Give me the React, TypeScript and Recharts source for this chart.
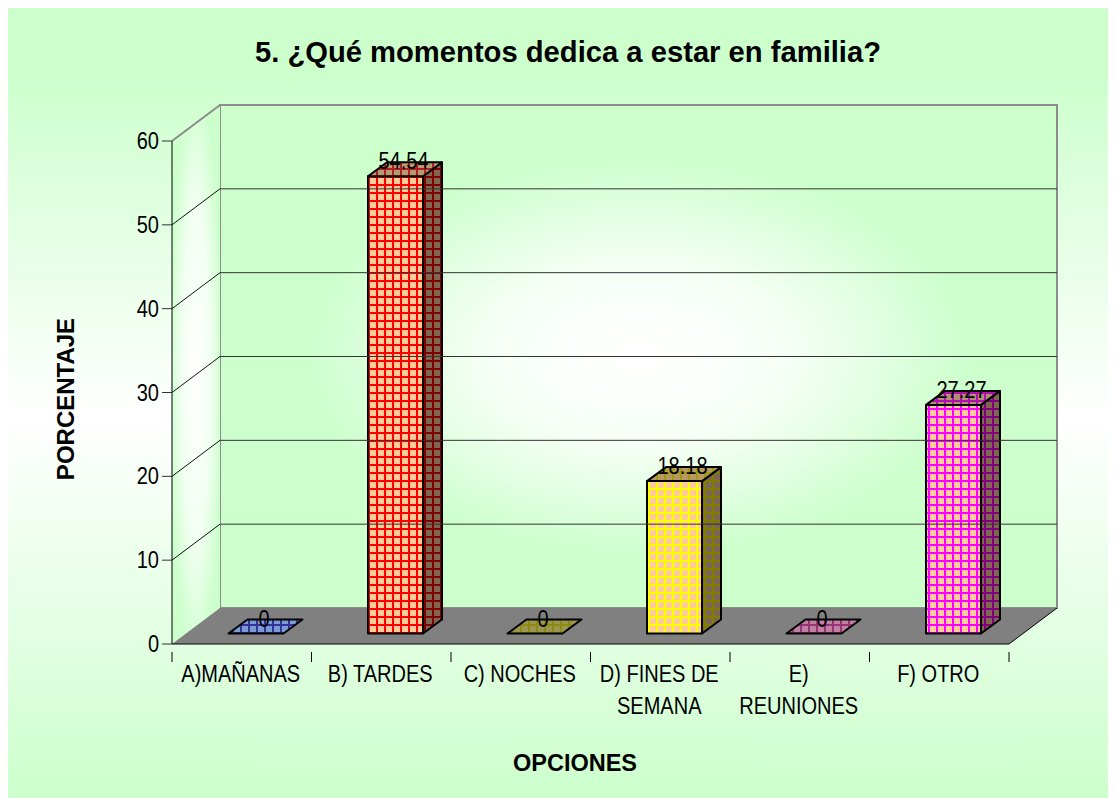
import React from "react";
import { BarChart, Bar, XAxis, YAxis, ReferenceLine, ReferenceArea, LabelList } from "recharts";

const categories = ["A)MAÑANAS", "B) TARDES", "C) NOCHES", "D) FINES DE\nSEMANA", "E)\nREUNIONES", "F) OTRO"];
const percentages = [0, 54.54, 0, 18.18, 0, 27.27];
const yTicks = [0, 10, 20, 30, 40, 50, 60];
const lineColors = ["#3333aa", "#ff0000", "#e8e000", "#ffff00", "#dd22bb", "#ff00ff"];
const topLines = ["#333399", "#b02020", "#8c8a10", "#a09a10", "#993377", "#b010b0"];
const sideLines = ["#222266", "#800000", "#807f00", "#807f00", "#800080", "#800080"];
const topCells = ["#7a9cd4", "#b89a70", "#9a9650", "#b89a60", "#c080a0", "#b09070"];

const rows = categories.map((name, i) => ({ name, value: percentages[i] }));

const W = 1108, H = 790;
const YAXIS_W = 60;
const M = { top: 133, right: 107, bottom: 94, left: 104 };
const DX = 48, DY = -36;
const BDX = 19, BDY = -14;
const OFFX = 14.5, OFFY = -10.5;
const FONT = "'Liberation Sans', Arial, sans-serif";
const NARROW = 0.87;
const TXT = 23;
const CELL = 8;

const pattern = (id: string, bg: string, line: string) => (
  <pattern key={id} id={id} patternUnits="userSpaceOnUse" width={CELL} height={CELL}>
    <rect width={CELL} height={CELL} fill={bg} />
    <rect x={0} width={2} height={CELL} fill={line} />
    <rect y={0} width={CELL} height={2} fill={line} />
  </pattern>
);

const Walls = (p: any) => {
  const { x, y, width, height } = p;
  const r = x + width, b = y + height;
  return (
    <g>
      <defs>
        <radialGradient id="backWall" cx="0.5" cy="0.5" r="0.5">
          <stop offset="0" stopColor="#ffffff" />
          <stop offset="0.35" stopColor="#f6fff6" />
          <stop offset="0.8" stopColor="#ccffcc" />
          <stop offset="1" stopColor="#ccffcc" />
        </radialGradient>
        <radialGradient id="sideWall" cx="0.5" cy="0.5" r="0.55">
          <stop offset="0" stopColor="#ffffff" />
          <stop offset="0.55" stopColor="#f2fff2" />
          <stop offset="1" stopColor="#ccffcc" />
        </radialGradient>
        {lineColors.map((c, i) => pattern(`front${i}`, "#ffcc99", c))}
        {topLines.map((c, i) => pattern(`top${i}`, topCells[i], c))}
        {sideLines.map((c, i) => pattern(`side${i}`, "#806650", c))}
      </defs>
      <rect x={x + DX} y={y + DY} width={width} height={height} fill="url(#backWall)" stroke="#8c8c8c" strokeWidth={2} />
      <polygon points={`${x},${y} ${x + DX},${y + DY} ${x + DX},${b + DY} ${x},${b}`} fill="url(#sideWall)" />
      <line x1={x} y1={y} x2={x + DX} y2={y + DY} stroke="#8c8c8c" strokeWidth={2} />
      <polygon points={`${x},${b} ${x + DX},${b + DY} ${r + DX},${b + DY} ${r},${b}`} fill="#808080" />
      <line x1={r} y1={b} x2={r + DX} y2={b + DY} stroke="#000" strokeWidth={1} />
    </g>
  );
};

const GridLine = (p: any) => {
  const { x1, y1, x2 } = p;
  return (
    <g>
      <line x1={x1} y1={y1} x2={x1 + DX} y2={y1 + DY} stroke="#111" strokeWidth={1} />
      <line x1={x1 + DX} y1={y1 + DY} x2={x2 + DX} y2={y1 + DY} stroke="#333" strokeWidth={1} />
    </g>
  );
};

const Bar3D = (p: any) => {
  const { x, y, width, height, index } = p;
  const fx = x + OFFX, fy = y + OFFY, fb = fy + height, fr = fx + width;
  const s = { stroke: "#000", strokeWidth: 2, strokeLinejoin: "round" as const };
  return (
    <g>
      {height > 0 && <rect x={fx} y={fy} width={width} height={height} fill={`url(#front${index})`} {...s} />}
      {height > 0 && (
        <polygon
          points={`${fr},${fy} ${fr + BDX},${fy + BDY} ${fr + BDX},${fb + BDY} ${fr},${fb}`}
          fill={`url(#side${index})`}
          {...s}
        />
      )}
      <polygon
        points={`${fx},${fy} ${fx + BDX},${fy + BDY} ${fr + BDX},${fy + BDY} ${fr},${fy}`}
        fill={`url(#top${index})`}
        {...s}
      />
    </g>
  );
};

const NarrowText = ({ x, y, anchor, children }: any) => (
  <text transform={`translate(${x},${y}) scale(${NARROW},1)`} textAnchor={anchor} fontFamily={FONT} fontSize={TXT} fill="#000">
    {children}
  </text>
);

const ValueLabel = (p: any) => {
  const { x, y, width, value } = p;
  return (
    <NarrowText x={x + width / 2 + OFFX + 8} y={y + OFFY - 7} anchor="middle">
      {value}
    </NarrowText>
  );
};

const CategoryTick = (p: any) => {
  const { x, y, payload, index } = p;
  const band = (W - M.left - M.right - YAXIS_W) / categories.length;
  const lines = String(payload.value).split("\n");
  const left = x - band / 2;
  return (
    <g>
      <line x1={left} y1={y} x2={left} y2={y + 10} stroke="#000" />
      {index === categories.length - 1 && <line x1={left + band} y1={y} x2={left + band} y2={y + 10} stroke="#000" />}
      {lines.map((t, i) => (
        <NarrowText key={t} x={x - 1} y={y + 30 + i * 32} anchor="middle">
          {t}
        </NarrowText>
      ))}
    </g>
  );
};

const ValueTick = (p: any) => (
  <NarrowText x={p.x} y={p.y + 8} anchor="end">
    {p.payload.value}
  </NarrowText>
);

export default function App() {
  return (
    <div style={{ width: W, height: H, background: "linear-gradient(180deg,#ccffcc 0%,#ccffcc 8%,#ffffff 52%,#ccffcc 100%)" }}>
      <BarChart width={W} height={H} data={rows} margin={M} barSize={55}>
        <ReferenceArea y1={0} y2={60} shape={<Walls />} ifOverflow="visible" />
        {yTicks.slice(1, -1).map((v) => (
          <ReferenceLine key={v} y={v} shape={<GridLine />} ifOverflow="visible" />
        ))}
        <XAxis dataKey="name" axisLine={{ stroke: "#000" }} tickLine={false} interval={0} height={60} tick={<CategoryTick />} />
        <YAxis
          domain={[0, 60]}
          ticks={yTicks}
          width={YAXIS_W}
          axisLine={{ stroke: "#000" }}
          tickLine={{ stroke: "#333" }}
          tickSize={10}
          tickMargin={3}
          tick={<ValueTick />}
        />
        <Bar dataKey="value" shape={<Bar3D />} isAnimationActive={false}>
          <LabelList dataKey="value" content={<ValueLabel />} />
        </Bar>
        <text x={560} y={54} textAnchor="middle" fontFamily={FONT} fontWeight="bold" fontSize={29.2} fill="#000">
          5. ¿Qué momentos dedica a estar en familia?
        </text>
        <text x={567} y={763} textAnchor="middle" fontFamily={FONT} fontWeight="bold" fontSize={23.5} fill="#000">
          OPCIONES
        </text>
        <text x={0} y={0} transform="translate(66,391) rotate(-90)" textAnchor="middle" fontFamily={FONT} fontWeight="bold" fontSize={24} fill="#000">
          PORCENTAJE
        </text>
      </BarChart>
    </div>
  );
}
